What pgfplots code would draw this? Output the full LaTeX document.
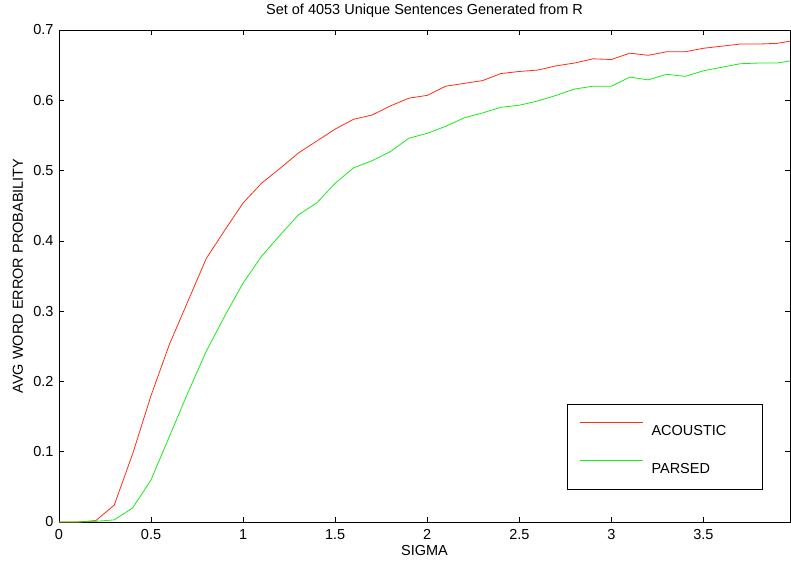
\documentclass[border=0pt]{standalone}
\usepackage{fontspec}
\setmainfont{Liberation Sans}
\usepackage{pgfplots}
\pgfplotsset{compat=1.18}

\definecolor{acoustic}{RGB}{255,45,20}
\definecolor{parsed}{RGB}{25,235,25}

\pgfplotstableread{
x     y
0     0
0.1   0.000
0.2   0.002
0.3   0.024
0.4   0.097
0.5   0.180
0.6   0.253
0.7   0.314
0.8   0.375
0.9   0.415
1.0   0.454
1.1   0.482
1.2   0.503
1.3   0.525
1.4   0.542
1.5   0.559
1.6   0.573
1.7   0.579
1.8   0.592
1.9   0.603
2.0   0.607
2.1   0.620
2.2   0.624
2.3   0.628
2.4   0.638
2.5   0.641
2.6   0.643
2.7   0.649
2.8   0.653
2.9   0.659
3.0   0.658
3.1   0.667
3.2   0.664
3.3   0.669
3.4   0.669
3.5   0.674
3.6   0.677
3.7   0.680
3.8   0.680
3.9   0.681
3.97  0.684
}\acoustictable

\pgfplotstableread{
x     y
0     0
0.1   0.000
0.2   0.001
0.3   0.003
0.4   0.020
0.5   0.060
0.6   0.122
0.7   0.184
0.8   0.243
0.9   0.293
1.0   0.340
1.1   0.378
1.2   0.408
1.3   0.437
1.4   0.454
1.5   0.482
1.6   0.504
1.7   0.514
1.8   0.527
1.9   0.546
2.0   0.553
2.1   0.563
2.2   0.575
2.3   0.582
2.4   0.590
2.5   0.593
2.6   0.599
2.7   0.607
2.8   0.616
2.9   0.620
3.0   0.620
3.1   0.633
3.2   0.629
3.3   0.637
3.4   0.634
3.5   0.642
3.6   0.647
3.7   0.652
3.8   0.653
3.9   0.653
3.97  0.656
}\parsedtable

\begin{document}
\begin{tikzpicture}[font=\fontsize{14.5bp}{16bp}\selectfont]
\begin{axis}[
    name=ax,
    scale only axis,
    width=731bp, height=492bp,
    xmin=0, xmax=3.97,
    ymin=0, ymax=0.7,
    xtick={0,0.5,...,3.5},
    ytick={0,0.1,...,0.7},
    tick align=inside,
    xtick pos=both, ytick pos=both,
    major tick length=5bp,
    axis line style={line width=0.9bp},
    tick style={line width=0.7bp, black},
    /pgf/number format/assume math mode=true,
    yticklabel style={/pgf/number format/fixed, xshift=-2bp},
    xticklabel style={yshift=-4bp},
    title={Set of 4053 Unique Sentences Generated from R},
    every axis title/.style={at={(axis description cs:0.5,1)}, anchor=center, yshift=19bp},
    xlabel={SIGMA},
    every axis x label/.style={at={(axis description cs:0.5,0)}, anchor=center, yshift=-29bp},
    ylabel={AVG WORD ERROR PROBABILITY},
    every axis y label/.style={at={(axis description cs:0,0.5)}, anchor=center, rotate=90, yshift=41bp},
    legend image code/.code={\draw[#1] (0bp,5.5bp) -- (63bp,5.5bp);},
    legend cell align=left,
    legend style={draw=black, line width=0.9bp, fill=white,
        at={(0.963,0.065)}, anchor=south east,
        inner xsep=12bp, inner ysep=15.5bp, row sep=22bp,
        nodes={inner sep=0pt, text height=15bp, text depth=1bp}, column sep=8bp},
]
\addplot[color=acoustic, line width=0.8bp] table[x=x, y=y] {\acoustictable};
\addlegendentry{\makebox[99bp][l]{ACOUSTIC}}
\addplot[color=parsed, line width=0.8bp] table[x=x, y=y] {\parsedtable};
\addlegendentry{\makebox[99bp][l]{PARSED}}
\end{axis}
\pgfresetboundingbox
\path ([xshift=-59bp, yshift=-41bp]ax.south west) rectangle ([xshift=1bp, yshift=30bp]ax.north east);
\end{tikzpicture}
\end{document}
